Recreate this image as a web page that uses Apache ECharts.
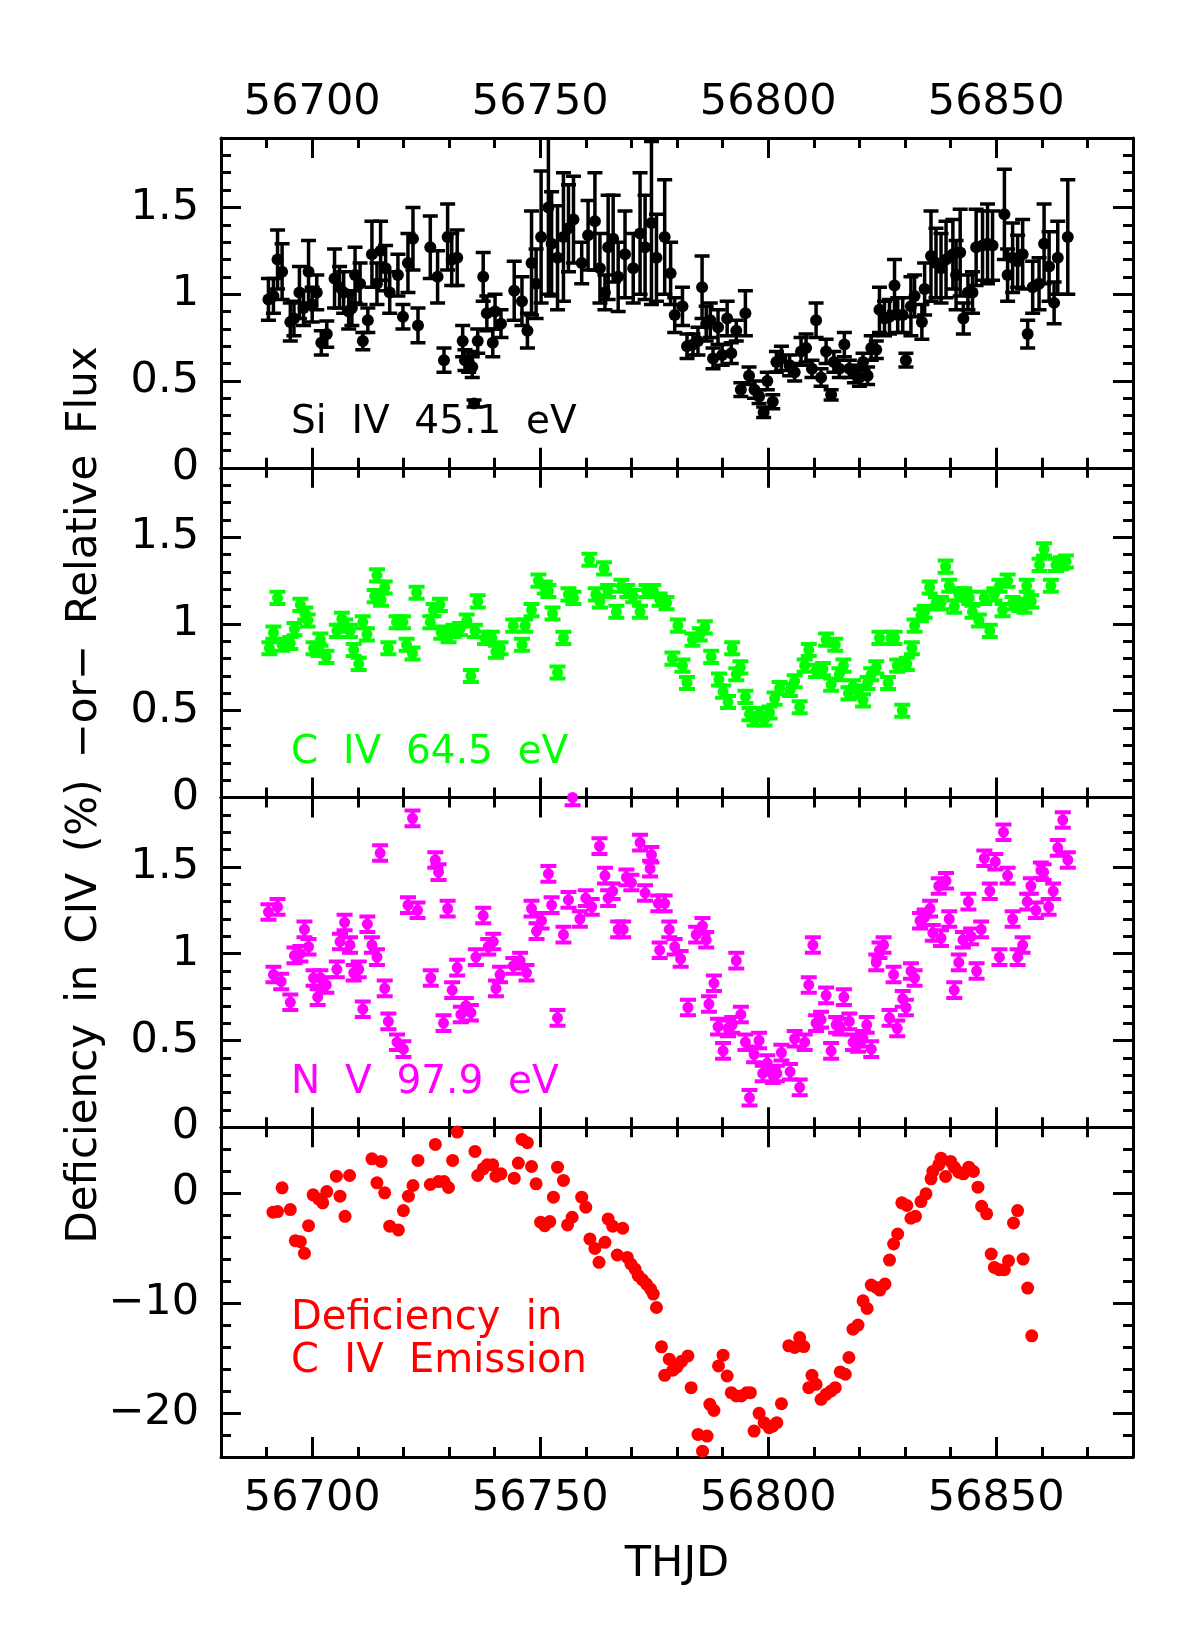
<!DOCTYPE html>
<html>
<head>
<meta charset="utf-8">
<script src="https://cdn.jsdelivr.net/npm/echarts@6/dist/echarts.min.js"></script>
<style>
  html, body { margin: 0; background: #fff; }
  #chart { width: 1198px; height: 1650px; }
</style>
</head>
<body>
<div id="chart"></div>
<script>
// tick values
const xTicks = [56700, 56750, 56800, 56850];
const fluxTicks = [0, 0.5, 1, 1.5];
const defTicks = [-20, -10, 0];

// Si IV 45.1 eV
const siTime = [56690.4, 56691.5, 56692.4, 56693.4, 56695.2, 56696.0, 56697.2, 56698.1, 56699.2, 56700.0,
  56701.0, 56702.0, 56703.2, 56704.9, 56706.0, 56706.9, 56708.0, 56708.7, 56709.4, 56710.5,
  56711.1, 56712.2, 56713.1, 56714.2, 56715.0, 56716.1, 56717.0, 56718.8, 56719.9, 56721.0,
  56722.1, 56723.2, 56725.9, 56727.5, 56728.9, 56729.7, 56730.6, 56731.8, 56733.0, 56733.5,
  56734.3, 56735.1, 56735.5, 56736.3, 56737.5, 56738.3, 56739.6, 56740.1, 56741.4, 56744.3,
  56746.0, 56747.2, 56748.1, 56749.1, 56750.2, 56751.8, 56752.5, 56753.8, 56755.1, 56756.2,
  56757.3, 56759.1, 56760.5, 56762.0, 56763.1, 56764.2, 56764.9, 56766.0, 56767.1, 56768.6,
  56770.4, 56771.9, 56773.0, 56774.4, 56775.5, 56777.3, 56778.6, 56779.5, 56781.2, 56782.2,
  56783.5, 56784.6, 56785.5, 56786.4, 56787.3, 56787.9, 56789.0, 56789.9, 56791.0, 56791.9,
  56793.0, 56794.0, 56795.0, 56795.8, 56797.0, 56798.0, 56799.0, 56799.8, 56801.0, 56801.8,
  56802.9, 56804.7, 56805.8, 56807.2, 56808.3, 56809.6, 56810.5, 56811.6, 56812.7, 56813.8,
  56814.4, 56815.6, 56816.7, 56817.8, 56818.9, 56820.0, 56820.8, 56821.8, 56822.6, 56823.7,
  56824.4, 56825.5, 56826.6, 56827.7, 56828.4, 56829.5, 56830.2, 56831.3, 56832.1, 56833.7,
  56834.3, 56835.7, 56836.8, 56837.9, 56839.0, 56840.5, 56841.2, 56842.1, 56842.8, 56843.8,
  56844.8, 56845.6, 56847.0, 56848.1, 56849.2, 56851.8, 56852.5, 56853.6, 56854.7, 56855.8,
  56856.9, 56858.0, 56859.4, 56860.5, 56861.6, 56862.7, 56863.5, 56865.7];
const siFlux = [0.97, 0.99, 1.20, 1.13, 0.84, 0.86, 1.01, 0.92, 1.13, 0.94,
  1.01, 0.72, 0.77, 1.09, 1.04, 1.01, 0.90, 0.92, 1.11, 1.06,
  0.73, 0.85, 1.23, 1.06, 1.25, 1.15, 1.01, 1.11, 0.87, 1.18,
  1.32, 0.82, 1.27, 1.10, 0.62, 1.33, 1.20, 1.21, 0.73, 0.62,
  0.61, 0.58, 0.37, 0.73, 1.10, 0.89, 0.72, 0.90, 0.83, 1.02,
  0.96, 0.79, 1.18, 1.06, 1.33, 1.50, 1.29, 1.21, 1.33, 1.38,
  1.43, 1.18, 1.34, 1.42, 1.15, 1.01, 1.27, 1.32, 1.10, 1.23,
  1.15, 1.35, 1.27, 1.41, 1.21, 1.33, 1.12, 0.88, 0.93, 0.70,
  0.71, 0.73, 1.04, 0.83, 0.85, 0.63, 0.81, 0.65, 0.86, 0.66,
  0.79, 0.45, 0.89, 0.53, 0.45, 0.41, 0.32, 0.50, 0.38, 0.61,
  0.63, 0.59, 0.55, 0.67, 0.69, 0.57, 0.85, 0.52, 0.67, 0.42,
  0.61, 0.57, 0.71, 0.57, 0.54, 0.52, 0.61, 0.53, 0.69, 0.68,
  0.91, 0.86, 0.87, 1.05, 0.88, 0.88, 0.62, 0.93, 0.99, 0.84,
  1.03, 1.22, 1.18, 1.15, 1.20, 1.23, 1.11, 1.24, 0.86, 1.01,
  1.01, 1.27, 1.28, 1.29, 1.28, 1.46, 1.11, 1.21, 1.19, 1.23,
  0.77, 1.04, 1.06, 1.29, 1.16, 0.95, 1.21, 1.33];
const siErr = [0.12, 0.10, 0.17, 0.16, 0.11, 0.10, 0.15, 0.10, 0.18, 0.10,
  0.10, 0.07, 0.075, 0.17, 0.12, 0.12, 0.10, 0.10, 0.16, 0.12,
  0.05, 0.07, 0.19, 0.12, 0.17, 0.13, 0.12, 0.12, 0.07, 0.17,
  0.18, 0.10, 0.18, 0.15, 0.07, 0.19, 0.15, 0.16, 0.09, 0.06,
  0.06, 0.06, 0.02, 0.07, 0.14, 0.10, 0.08, 0.10, 0.08, 0.17,
  0.14, 0.10, 0.30, 0.20, 0.38, 0.50, 0.30, 0.30, 0.37, 0.25,
  0.25, 0.12, 0.20, 0.28, 0.20, 0.10, 0.30, 0.25, 0.20, 0.25,
  0.20, 0.35, 0.30, 0.47, 0.25, 0.33, 0.18, 0.10, 0.11, 0.07,
  0.06, 0.08, 0.18, 0.10, 0.10, 0.06, 0.10, 0.06, 0.10, 0.06,
  0.06, 0.04, 0.13, 0.05, 0.05, 0.04, 0.03, 0.05, 0.04, 0.06,
  0.07, 0.06, 0.05, 0.08, 0.08, 0.05, 0.10, 0.05, 0.07, 0.03,
  0.06, 0.05, 0.07, 0.05, 0.05, 0.05, 0.05, 0.05, 0.07, 0.05,
  0.13, 0.10, 0.10, 0.15, 0.10, 0.10, 0.04, 0.17, 0.12, 0.10,
  0.15, 0.26, 0.20, 0.20, 0.22, 0.20, 0.20, 0.25, 0.09, 0.10,
  0.12, 0.22, 0.20, 0.23, 0.20, 0.26, 0.15, 0.20, 0.15, 0.20,
  0.08, 0.15, 0.15, 0.23, 0.20, 0.12, 0.21, 0.33];

// C IV 64.5 eV
const cTime = [56690.6, 56691.5, 56692.4, 56693.4, 56695.2, 56696.1, 56697.4, 56698.5, 56699.0, 56700.3,
  56701.4, 56701.8, 56703.1, 56705.4, 56706.5, 56707.2, 56708.3, 56709.1, 56710.2, 56711.1,
  56712.0, 56713.7, 56714.2, 56715.1, 56715.9, 56716.7, 56718.5, 56719.9, 56720.7, 56722.0,
  56722.9, 56725.9, 56726.6, 56728.0, 56728.3, 56729.9, 56731.0, 56732.4, 56733.9, 56734.8,
  56735.7, 56736.3, 56737.9, 56739.4, 56740.3, 56741.3, 56744.1, 56746.0, 56746.7, 56748.1,
  56749.6, 56751.0, 56751.8, 56752.7, 56753.8, 56755.1, 56756.2, 56757.3, 56760.8, 56762.2,
  56763.1, 56764.0, 56764.9, 56766.7, 56767.8, 56769.1, 56770.4, 56771.9, 56773.3, 56774.8,
  56776.2, 56777.7, 56779.0, 56780.2, 56781.2, 56782.2, 56783.4, 56785.0, 56786.1, 56787.5,
  56789.2, 56790.1, 56791.2, 56792.1, 56793.0, 56793.9, 56795.0, 56795.9, 56797.0, 56798.1,
  56799.2, 56800.3, 56801.4, 56802.5, 56804.8, 56805.8, 56806.9, 56808.0, 56808.9, 56810.5,
  56812.0, 56812.7, 56813.8, 56814.7, 56815.6, 56816.5, 56817.6, 56818.6, 56819.7, 56820.8,
  56821.8, 56822.6, 56823.7, 56824.4, 56826.3, 56826.9, 56827.7, 56828.3, 56829.4, 56830.4,
  56831.5, 56832.1, 56833.5, 56834.3, 56835.4, 56836.8, 56837.9, 56838.9, 56839.7, 56840.8,
  56841.8, 56843.0, 56844.1, 56844.8, 56846.2, 56847.4, 56848.6, 56849.6, 56850.7, 56851.4,
  56852.5, 56853.6, 56855.1, 56856.2, 56856.7, 56857.7, 56859.5, 56860.5, 56862.0, 56863.1,
  56864.2, 56865.3];
const cFlux = [0.86, 0.95, 1.15, 0.88, 0.89, 0.97, 1.11, 1.06, 1.02, 0.86,
  0.85, 0.91, 0.81, 0.96, 1.03, 0.99, 0.96, 0.85, 0.77, 1.01,
  0.94, 1.16, 1.28, 1.14, 1.21, 0.86, 1.01, 1.01, 0.88, 0.83,
  1.18, 1.01, 1.08, 1.11, 0.95, 0.93, 0.96, 0.97, 1.02, 0.70,
  0.96, 1.13, 0.92, 0.92, 0.84, 0.86, 0.99, 0.88, 0.99, 1.08,
  1.25, 1.21, 1.19, 1.06, 0.72, 0.92, 1.17, 1.15, 1.37, 1.17,
  1.13, 1.32, 1.19, 1.07, 1.22, 1.19, 1.16, 1.07, 1.19, 1.19,
  1.14, 1.12, 0.80, 0.99, 0.76, 0.66, 0.91, 0.94, 0.98, 0.81,
  0.68, 0.61, 0.55, 0.86, 0.71, 0.75, 0.58, 0.48, 0.45, 0.48,
  0.45, 0.49, 0.57, 0.63, 0.62, 0.67, 0.52, 0.76, 0.85, 0.73,
  0.74, 0.91, 0.65, 0.88, 0.71, 0.76, 0.60, 0.64, 0.61, 0.56,
  0.66, 0.71, 0.75, 0.92, 0.66, 0.92, 0.92, 0.76, 0.50, 0.77,
  0.86, 0.99, 1.05, 1.07, 1.21, 1.12, 1.12, 1.33, 1.22, 1.10,
  1.17, 1.17, 1.15, 1.07, 1.02, 1.15, 0.96, 1.17, 1.22, 1.08,
  1.25, 1.12, 1.11, 1.10, 1.22, 1.13, 1.34, 1.43, 1.22, 1.34,
  1.35, 1.36];
const cErr = 0.035;

// N V 97.9 eV
const nTime = [56690.4, 56691.5, 56692.4, 56693.2, 56695.2, 56696.1, 56697.4, 56698.3, 56699.2, 56700.3,
  56701.2, 56701.8, 56703.1, 56705.4, 56706.1, 56707.1, 56708.3, 56709.1, 56710.2, 56711.1,
  56712.1, 56713.1, 56714.2, 56714.9, 56715.9, 56716.7, 56718.6, 56720.0, 56721.0, 56722.0,
  56723.1, 56726.0, 56727.0, 56727.7, 56728.8, 56729.7, 56730.7, 56731.8, 56732.6, 56733.7,
  56734.8, 56735.9, 56737.5, 56738.6, 56739.7, 56740.3, 56741.2, 56744.1, 56745.6, 56747.0,
  56748.1, 56749.2, 56750.3, 56751.8, 56752.5, 56753.8, 56755.1, 56756.2, 56757.1, 56758.7,
  56760.0, 56761.3, 56763.0, 56764.2, 56764.9, 56765.9, 56767.1, 56768.2, 56768.9, 56770.0,
  56771.9, 56773.0, 56774.1, 56774.4, 56775.9, 56776.2, 56777.3, 56778.3, 56779.5, 56780.8,
  56782.4, 56784.2, 56785.6, 56786.4, 56787.0, 56788.1, 56789.0, 56790.1, 56791.2, 56792.1,
  56793.0, 56794.0, 56795.0, 56795.9, 56796.9, 56798.0, 56798.8, 56799.8, 56801.0, 56801.9,
  56802.9, 56804.8, 56805.8, 56806.9, 56808.0, 56808.9, 56809.8, 56810.5, 56811.6, 56812.7,
  56813.8, 56814.9, 56815.8, 56816.6, 56817.8, 56818.6, 56819.7, 56820.8, 56821.6, 56822.6,
  56823.7, 56824.4, 56825.3, 56826.6, 56827.5, 56828.3, 56829.5, 56830.2, 56831.3, 56832.1,
  56833.3, 56834.3, 56835.5, 56836.1, 56837.4, 56837.9, 56839.0, 56839.7, 56840.8, 56841.8,
  56842.7, 56843.9, 56844.5, 56845.7, 56846.7, 56847.4, 56848.6, 56849.8, 56850.7, 56851.6,
  56852.5, 56853.6, 56854.7, 56855.8, 56856.8, 56857.6, 56858.7, 56859.8, 56860.4, 56861.5,
  56862.5, 56863.5, 56864.6, 56865.7];
const nFlux = [1.24, 0.88, 1.27, 0.84, 0.72, 0.99, 1.00, 1.14, 1.04, 0.86,
  0.75, 0.86, 0.82, 0.91, 1.07, 1.18, 1.05, 0.89, 0.91, 0.68,
  1.17, 1.05, 0.98, 1.58, 0.80, 0.61, 0.49, 0.45, 1.28, 1.78,
  1.25, 0.86, 1.54, 1.47, 0.60, 1.26, 0.79, 0.92, 0.65, 0.70,
  0.66, 0.98, 1.22, 1.04, 1.07, 0.80, 0.88, 0.93, 0.96, 0.89,
  1.26, 1.13, 1.19, 1.46, 1.28, 0.63, 1.11, 1.31, 1.90, 1.20,
  1.32, 1.27, 1.62, 1.45, 1.32, 1.36, 1.14, 1.14, 1.44, 1.41,
  1.64, 1.35, 1.49, 1.57, 1.29, 1.02, 1.29, 1.14, 1.04, 0.97,
  0.69, 1.11, 1.16, 1.08, 0.71, 0.83, 0.58, 0.44, 0.57, 0.59,
  0.96, 0.65, 0.49, 0.17, 0.42, 0.50, 0.31, 0.37, 0.30, 0.31,
  0.43, 0.32, 0.51, 0.23, 0.49, 0.82, 1.05, 0.60, 0.62, 0.76,
  0.44, 0.59, 0.58, 0.75, 0.61, 0.49, 0.48, 0.51, 0.59, 0.45,
  0.95, 1.02, 1.05, 0.63, 0.88, 0.57, 0.74, 0.69, 0.90, 0.86,
  1.19, 1.21, 1.26, 1.12, 1.39, 1.09, 1.42, 1.20, 0.79, 0.95,
  1.08, 1.30, 1.10, 0.90, 1.14, 1.55, 1.36, 1.53, 0.98, 1.70,
  1.45, 1.20, 0.98, 1.05, 1.30, 1.39, 1.25, 1.48, 1.47, 1.27,
  1.36, 1.61, 1.77, 1.54];
const nErr = 0.045;

// Deficiency in C IV emission (%)
const dTime = [56691.4, 56692.4, 56693.4, 56695.2, 56696.3, 56697.4, 56698.3, 56699.2, 56700.2, 56701.4,
  56702.3, 56703.2, 56705.3, 56706.1, 56707.2, 56708.2, 56713.1, 56714.2, 56715.1, 56715.9,
  56717.0, 56718.9, 56720.0, 56721.1, 56722.1, 56723.2, 56725.9, 56727.0, 56727.7, 56728.9,
  56729.9, 56730.8, 56731.8, 56735.7, 56736.3, 56737.5, 56738.4, 56739.6, 56740.3, 56741.4,
  56744.3, 56745.2, 56746.0, 56747.2, 56748.1, 56749.1, 56750.1, 56751.0, 56752.1, 56752.9,
  56753.8, 56755.1, 56756.0, 56757.0, 56759.1, 56760.0, 56760.9, 56762.0, 56762.9, 56764.2,
  56764.9, 56765.9, 56766.9, 56768.1, 56769.1, 56769.9, 56770.8, 56771.5, 56772.4, 56773.3,
  56774.2, 56774.8, 56775.5, 56776.6, 56777.3, 56778.3, 56779.1, 56780.0, 56781.0, 56782.4,
  56783.1, 56784.6, 56785.6, 56786.6, 56787.2, 56788.1, 56789.1, 56790.1, 56791.0, 56791.9,
  56793.0, 56794.1, 56795.3, 56796.1, 56796.9, 56798.0, 56799.1, 56800.2, 56801.0, 56801.9,
  56802.9, 56804.5, 56805.8, 56806.9, 56807.8, 56808.9, 56809.6, 56810.5, 56811.6, 56812.7,
  56813.8, 56814.7, 56815.8, 56816.9, 56817.7, 56818.6, 56819.7, 56820.8, 56821.7, 56822.6,
  56823.7, 56824.5, 56825.6, 56826.6, 56827.5, 56828.4, 56829.3, 56830.4, 56831.3, 56832.3,
  56833.5, 56834.6, 56835.7, 56836.1, 56837.4, 56837.9, 56838.9, 56840.0, 56840.8, 56841.8,
  56842.8, 56844.0, 56845.0, 56846.0, 56846.8, 56847.9, 56848.9, 56849.6, 56850.7, 56851.8,
  56852.7, 56853.8, 56854.7, 56855.9, 56856.9, 56857.8];
const dPct = [-1.73, -1.67, 0.49, -1.49, -4.32, -4.41, -5.47, -2.95, -0.15, -0.52,
  -0.88, 0.15, 1.55, -0.27, -2.10, 1.61, 3.13, 0.94, 2.89, 0.03,
  -3.00, -3.34, -1.58, -0.27, 0.70, 2.98, 0.79, 4.44, 1.06, 1.06,
  0.52, 2.98, 5.56, 3.80, 1.61, 2.22, 2.58, 2.58, 1.55, 1.76,
  1.37, 2.74, 4.89, 4.59, 2.43, 0.85, -2.64, -2.95, -2.58, -0.36,
  2.37, 1.16, -2.89, -2.19, -0.36, -1.28, -4.16, -5.02, -6.29, -4.47,
  -2.34, -3.00, -5.62, -3.19, -5.84, -6.44, -6.90, -7.50, -7.87, -8.27,
  -8.72, -9.18, -10.40, -13.98, -16.57, -15.10, -16.10, -15.80, -15.30, -14.80,
  -17.69, -21.95, -23.47, -22.10, -19.21, -19.76, -15.71, -14.74, -16.63, -18.15,
  -18.45, -18.45, -18.15, -18.15, -21.64, -20.03, -20.88, -21.34, -21.19, -20.88,
  -19.15, -13.89, -14.04, -13.13, -13.95, -17.69, -16.57, -17.39, -18.75, -18.30,
  -17.99, -17.69, -16.26, -16.47, -14.95, -12.37, -12.00, -9.79, -10.49, -8.36,
  -8.57, -8.81, -8.27, -6.08, -4.62, -3.71, -0.88, -1.12, -2.28, -2.10,
  -0.76, -0.06, 1.31, 1.98, 2.58, 3.19, 1.52, 2.89, 2.37, 1.91,
  1.76, 2.37, 1.98, 0.55, -1.19, -1.88, -5.53, -6.75, -6.96, -6.96,
  -6.14, -2.71, -1.58, -5.99, -8.63, -12.98];

const FONT = '"DejaVu Sans", "Liberation Sans", sans-serif';
const BLACK = '#000';
const tickStyle = { color: BLACK, width: 3 };
const labelStyle = { color: BLACK, fontFamily: FONT, fontSize: 43 };

// panel layout
const panelTop = 138, panelH = 329.75;
const yRanges = [[0, 1.9, 0.1], [0, 1.9, 0.1], [0, 1.9, 0.1], [-24, 6, 2]];

const grid = [0, 1, 2, 3].map(i => ({
  left: 221, width: 912, top: panelTop + i * panelH, height: panelH,
  containLabel: false, outerBoundsMode: 'none'
}));

const fmt = v => (v < 0 ? '\u2212' + Math.abs(v) : String(v));

const xAxis = [], yAxis = [];
[0, 1, 2, 3].forEach(g => {
  const base = { type: 'value', gridIndex: g, min: 56680, max: 56880, splitLine: { show: false } };
  const minor = pos => ({
    ...base, position: pos, interval: 10,
    axisLine: { show: true, onZero: false, lineStyle: tickStyle },
    axisTick: { show: true, inside: true, length: 10, lineStyle: tickStyle },
    axisLabel: { show: false }
  });
  const major = (pos, labels) => ({
    ...base, position: pos,
    axisLine: { show: false, onZero: false },
    axisTick: { show: true, inside: true, length: 20, customValues: xTicks, lineStyle: tickStyle },
    axisLabel: labels
      ? { show: true, customValues: xTicks, formatter: fmt, margin: pos === 'top' ? 14 : 20, ...labelStyle }
      : { show: false }
  });
  xAxis.push(minor('bottom'), major('bottom', g === 3), minor('top'), major('top', g === 0));

  const [ymin, ymax, step] = yRanges[g];
  const majors = g === 3 ? defTicks : fluxTicks;
  const ybase = { type: 'value', gridIndex: g, min: ymin, max: ymax, splitLine: { show: false } };
  const yminor = pos => ({
    ...ybase, position: pos, interval: step,
    axisLine: { show: true, onZero: false, lineStyle: tickStyle },
    axisTick: { show: true, inside: true, length: 10, lineStyle: tickStyle },
    axisLabel: { show: false }
  });
  const ymajor = (pos, labels) => ({
    ...ybase, position: pos,
    axisLine: { show: false, onZero: false },
    axisTick: { show: true, inside: true, length: 20, customValues: majors, lineStyle: tickStyle },
    axisLabel: labels
      ? { show: true, customValues: majors, formatter: fmt, margin: 22, ...labelStyle }
      : { show: false }
  });
  yAxis.push(yminor('left'), ymajor('left', true), yminor('right'), ymajor('right', false));
});

function errorBars(g, times, vals, errs, color, cap, width) {
  const err = i => (Array.isArray(errs) ? errs[i] : errs);
  return {
    type: 'custom', xAxisIndex: g * 4, yAxisIndex: g * 4, clip: true, silent: true, z: 2,
    encode: { x: 0, y: [1, 2] },
    data: times.map((t, i) => [t, vals[i] - err(i), vals[i] + err(i)]),
    renderItem(params, api) {
      const lo = api.coord([api.value(0), api.value(1)]);
      const hi = api.coord([api.value(0), api.value(2)]);
      const style = { stroke: color, lineWidth: width };
      return {
        type: 'group', children: [
          { type: 'line', shape: { x1: lo[0], y1: lo[1], x2: hi[0], y2: hi[1] }, style },
          { type: 'line', shape: { x1: lo[0] - cap, y1: lo[1], x2: lo[0] + cap, y2: lo[1] }, style },
          { type: 'line', shape: { x1: hi[0] - cap, y1: hi[1], x2: hi[0] + cap, y2: hi[1] }, style }
        ]
      };
    }
  };
}

function dots(g, times, vals, color, size) {
  return {
    type: 'scatter', xAxisIndex: g * 4, yAxisIndex: g * 4, symbol: 'circle', symbolSize: size,
    itemStyle: { color, opacity: 1 }, silent: true, z: 3, clip: false,
    data: times.map((t, i) => [t, vals[i]])
  };
}

const GREEN = '#00ff00', MAGENTA = '#ff00ff', RED = '#ff0000';

const series = [
  errorBars(0, siTime, siFlux, siErr, BLACK, 7.5, 3.5),
  dots(0, siTime, siFlux, BLACK, 12),
  errorBars(1, cTime, cFlux, cErr, GREEN, 8, 4),
  dots(1, cTime, cFlux, GREEN, 11),
  errorBars(2, nTime, nFlux, nErr, MAGENTA, 8, 4),
  dots(2, nTime, nFlux, MAGENTA, 11),
  dots(3, dTime, dPct, RED, 13)
];

const txt = (text, x, y, color, size) => ({
  type: 'text', x, y, silent: true,
  style: { text, fill: color, font: size + 'px ' + FONT, align: 'left', verticalAlign: 'middle' }
});

const graphic = [
  {
    type: 'text', x: 85, y: 795, rotation: Math.PI / 2, silent: true,
    style: {
      text: 'Deficiency\u2002in\u2002CIV\u2002(%)\u2002\u2212or\u2212\u2002Relative\u2002Flux',
      fill: BLACK, font: '42px ' + FONT, align: 'center', verticalAlign: 'middle'
    }
  },
  {
    type: 'text', x: 677, y: 1565, silent: true,
    style: { text: 'THJD', fill: BLACK, font: '43px ' + FONT, align: 'center', verticalAlign: 'middle' }
  },
  txt('Si  IV  45.1  eV', 291, 423, BLACK, 39),
  txt('C  IV  64.5  eV', 291, 753, GREEN, 39),
  txt('N  V  97.9  eV', 291, 1083, MAGENTA, 39),
  txt('Deficiency  in', 291, 1319, RED, 40),
  txt('C  IV  Emission', 291, 1362, RED, 40)
];

const chart = echarts.init(document.getElementById('chart'), null, { renderer: 'canvas' });
chart.setOption({
  backgroundColor: '#fff',
  animation: false,
  grid, xAxis, yAxis, series, graphic
});
</script>
</body>
</html>
